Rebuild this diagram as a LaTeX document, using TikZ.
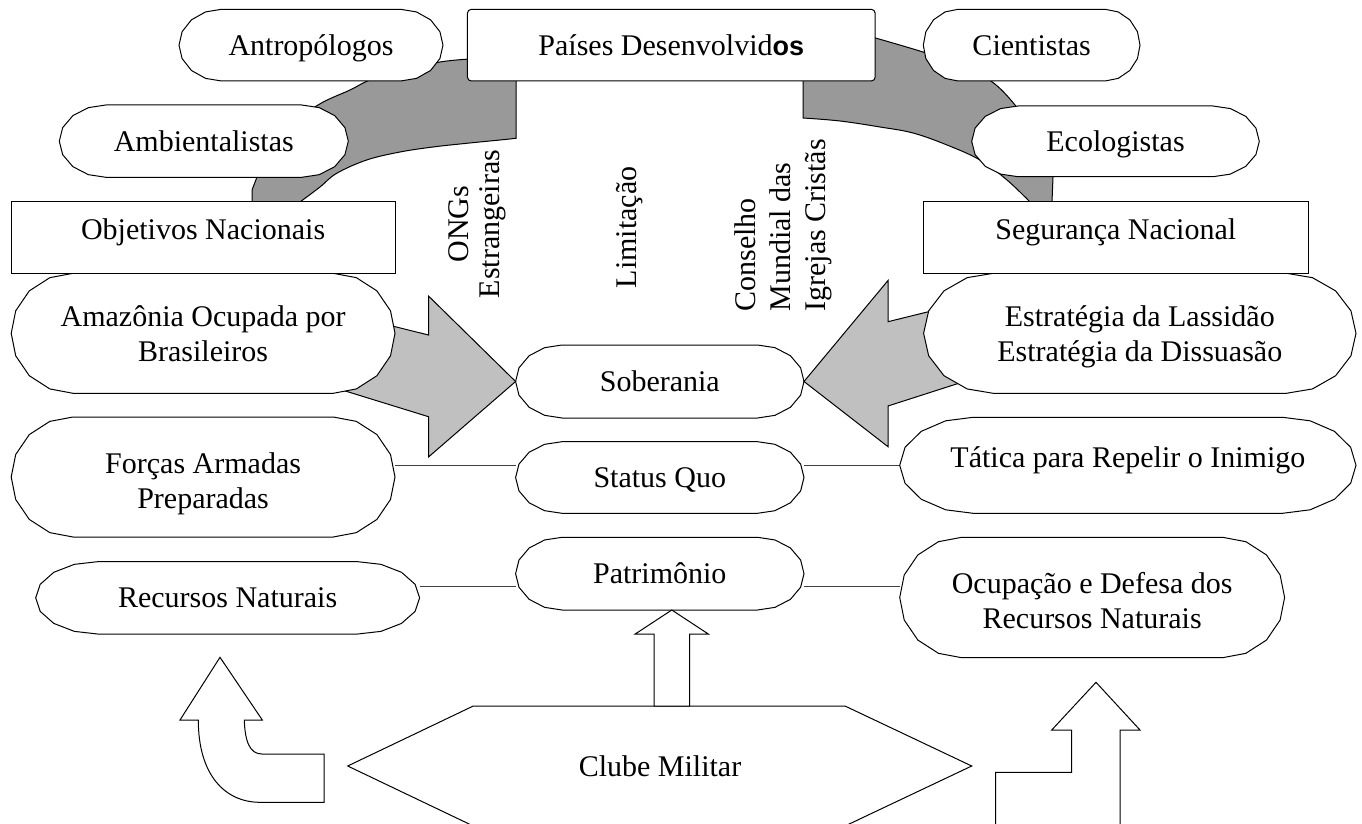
\documentclass[tikz,border=0pt]{standalone}
\usepackage{fontspec}
\setmainfont{Liberation Serif}
\setsansfont{Liberation Sans}
\usetikzlibrary{calc,backgrounds}
\definecolor{arcgray}{RGB}{153,153,153}
\definecolor{arrgray}{RGB}{192,192,192}
\tikzset{
  outline/.style={draw=black, line width=1pt, line join=miter},
  termline/.style={outline, fill=white},
  termnode/.style={draw=none, inner sep=0pt, outer sep=0pt},
  t1/.style={inner sep=0pt, font=\fontsize{30}{35}\selectfont, text height=20pt, text depth=0pt},
  t2/.style={inner sep=0pt, font=\fontsize{30}{35}\selectfont, align=center},
  boxnode/.style={outline, fill=white, inner sep=0pt, font=\fontsize{30}{35}\selectfont, text height=20pt, text depth=16pt},
  vtext/.style={rotate=90, inner sep=0pt, font=\fontsize{30}{35}\selectfont},
  bandfill/.style={outline, fill=arcgray},
  bigarrow/.style={outline, fill=arrgray},
  blockarrow/.style={outline, fill=white},
  link/.style={draw=black!75, line width=1pt},
}
% terminator shape: [text options]{name}{x1}{y1}{x2}{y2}{text}
\newcommand\term[7][t1]{%
  \pgfmathsetmacro\tqA{#3}\pgfmathsetmacro\tqB{#4}%
  \pgfmathsetmacro\tqC{#5}\pgfmathsetmacro\tqD{#6}%
  \pgfmathsetmacro\tqW{\tqC-\tqA}\pgfmathsetmacro\tqH{\tqD-\tqB}%
  \pgfmathsetmacro\tqrx{0.161*\tqW}\pgfmathsetmacro\tqry{\tqH/2}%
  \pgfmathsetmacro\tqcx{(\tqA+\tqC)/2}\pgfmathsetmacro\tqcy{(\tqB+\tqD)/2}%
  \pgfmathsetmacro\tqL{\tqA+\tqrx}\pgfmathsetmacro\tqR{\tqC-\tqrx}%
  \path[termline] (\tqL,\tqB) -- (\tqR,\tqB)
    -- (\tqR+.3746*\tqrx,\tqcy-.9272*\tqry) -- (\tqR+.7071*\tqrx,\tqcy-.7071*\tqry)
    -- (\tqR+.9272*\tqrx,\tqcy-.3746*\tqry) -- (\tqC,\tqcy)
    -- (\tqR+.9272*\tqrx,\tqcy+.3746*\tqry) -- (\tqR+.7071*\tqrx,\tqcy+.7071*\tqry)
    -- (\tqR+.3746*\tqrx,\tqcy+.9272*\tqry) -- (\tqR,\tqD)
    -- (\tqL,\tqD)
    -- (\tqL-.3746*\tqrx,\tqcy+.9272*\tqry) -- (\tqL-.7071*\tqrx,\tqcy+.7071*\tqry)
    -- (\tqL-.9272*\tqrx,\tqcy+.3746*\tqry) -- (\tqA,\tqcy)
    -- (\tqL-.9272*\tqrx,\tqcy-.3746*\tqry) -- (\tqL-.7071*\tqrx,\tqcy-.7071*\tqry)
    -- (\tqL-.3746*\tqrx,\tqcy-.9272*\tqry) -- cycle;
  \node[termnode, minimum width=\tqW pt, minimum height=\tqH pt] (#2) at (\tqcx,\tqcy) {};
  \node[#1] (#2-t) at (\tqcx,\tqcy) {#7};
}
\begin{document}
\begin{tikzpicture}[x=1pt,y=-1pt]
\useasboundingbox (0,0) rectangle (1362,824);

% grey curved bands
\path[bandfill] (480,58) -- (470,59)
  -- plot[smooth, tension=0.6] coordinates {(470,59) (440,62) (400,71) (370,80) (350,90) (318,105) (285,130) (265,155) (257,177)}
  -- (252,190) -- (252,212) -- (296,212)
  -- plot[smooth, tension=0.6] coordinates {(300,202) (320,187) (336.7,173.3) (366.7,160) (400,152) (433,147) (466.7,143.3) (500,140) (516,138.3)}
  -- (516,70) -- cycle;
\path[bandfill] (860,30) -- (872,37)
  -- plot[smooth, tension=0.6] coordinates {(872,37) (923,52) (960,65) (991,81) (1015,105) (1035,135) (1048,160) (1053,177)}
  -- (1052,202) -- (1052,212) -- (1035,212)
  -- plot[smooth, tension=0.6] coordinates {(1030,202) (1007,180) (980,160) (947,145) (913,133) (880,127) (840,121) (803,118)}
  -- (803,70) -- cycle;

% centre column
\term{sober}{515.6}{345}{804}{418}{Soberania}
\term{statusq}{515.6}{441.7}{804}{513.3}{Status Quo}
\term{patrim}{515.6}{537.3}{804}{610}{Patrimônio}

% big grey arrows
\path[bigarrow] (340,313) -- (428.5,335) -- (428.5,296) -- (sober.west) -- (428.5,457) -- (428.5,416.7) -- (300,377) -- cycle;
\path[bigarrow] (980,299) -- (888,321.7) -- (888,280.5) -- (sober.east) -- (888,446.7) -- (888,406) -- (1000,370) -- cycle;

% top row
\term{antrop}{179}{9.3}{443}{81}{Antropólogos}
\term{cient}{923.3}{9.3}{1140}{81}{Cientistas}
\node[boxnode, rounded corners=4pt, text depth=0pt, minimum width=407.8pt, minimum height=71.7pt] (paises) at (671.3,45.15)
  {Países Desenvolvid{\sffamily\bfseries\fontsize{27}{35}\selectfont os}};
\term{ambient}{59.3}{105}{348.3}{177.3}{Ambientalistas}
\term{ecolog}{971.7}{106}{1259.3}{176.7}{Ecologistas}

% left / right columns
\term[t2]{amaz}{11.2}{273.3}{395}{393.3}{Amazônia Ocupada por\\Brasileiros}
\term[t2, yshift=-4pt]{estrat}{923.6}{273.3}{1356}{393.3}{Estratégia da Lassidão\\Estratégia da Dissuasão}
\node[boxnode, minimum width=383.8pt, minimum height=71.6pt] (objet) at (203.1,237.5) {Objetivos Nacionais};
\node[boxnode, minimum width=385pt, minimum height=71.6pt] (segur) at (1115.8,237.5) {Segurança Nacional};
\term[t2, yshift=-7pt]{forcas}{11.2}{417}{395}{537}{Forças Armadas\\Preparadas}
\term[t1, yshift=8pt]{tatica}{899.7}{417.3}{1356}{513.3}{Tática para Repelir o Inimigo}
\term{recursos}{35.7}{561.7}{419.6}{634}{Recursos Naturais}
\term[t2, yshift=-3pt]{ocupa}{899.7}{537.3}{1284.6}{657.7}{Ocupação e Defesa dos\\Recursos Naturais}

% bottom: hexagon and block arrows
\path[blockarrow] (347.7,766) -- (473.3,706) -- (845,706) -- (971.7,766) -- (845,826) -- (473.3,826) -- cycle;
\node[t1] (clube) at (660,766) {Clube Militar};
\path[blockarrow] (671.8,610) -- (708.3,634) -- (689.7,634) -- (689.7,706) -- (654,706) -- (654,634) -- (635.2,634) -- cycle;
\path[blockarrow] (220,657.3) -- (262.3,720) -- (244.3,720) .. controls (245,742) and (250,754) .. (262,754)
  -- (324,754) -- (324,802.3) -- (260,802.3) .. controls (225,802.3) and (198.3,775) .. (198.3,720) -- (180,720) -- cycle;
\path[blockarrow] (1096,682.3) -- (1140,730) -- (1120,730) -- (1120,830) -- (995.7,830) -- (995.7,772.3)
  -- (1071.7,772.3) -- (1071.7,730) -- (1051.7,730) -- cycle;

% vertical texts
\node[vtext, align=center, font=\fontsize{30}{31}\selectfont] (ongs) at (477.6,224) {ONGs\\Estrangeiras};
\node[vtext] (limit) at (629.7,227.5) {Limitação};
\node[vtext, align=left, anchor=west] (conselho) at (783,311.7) {Conselho\\Mundial das\\Igrejas Cristãs};

% connectors (behind the shapes)
\coordinate (row2) at (0,586);
\begin{scope}[on background layer]
  \fill[white] (0,0) rectangle (1362,824);
  \draw[link] (forcas.east |- tatica.west) -- (statusq.west |- tatica.west);
  \draw[link] (statusq.east |- tatica.west) -- (tatica.west);
  \draw[link] (recursos.east |- row2) -- (patrim.west |- row2);
  \draw[link] (patrim.east |- row2) -- (ocupa.west |- row2);
\end{scope}
\end{tikzpicture}
\end{document}
